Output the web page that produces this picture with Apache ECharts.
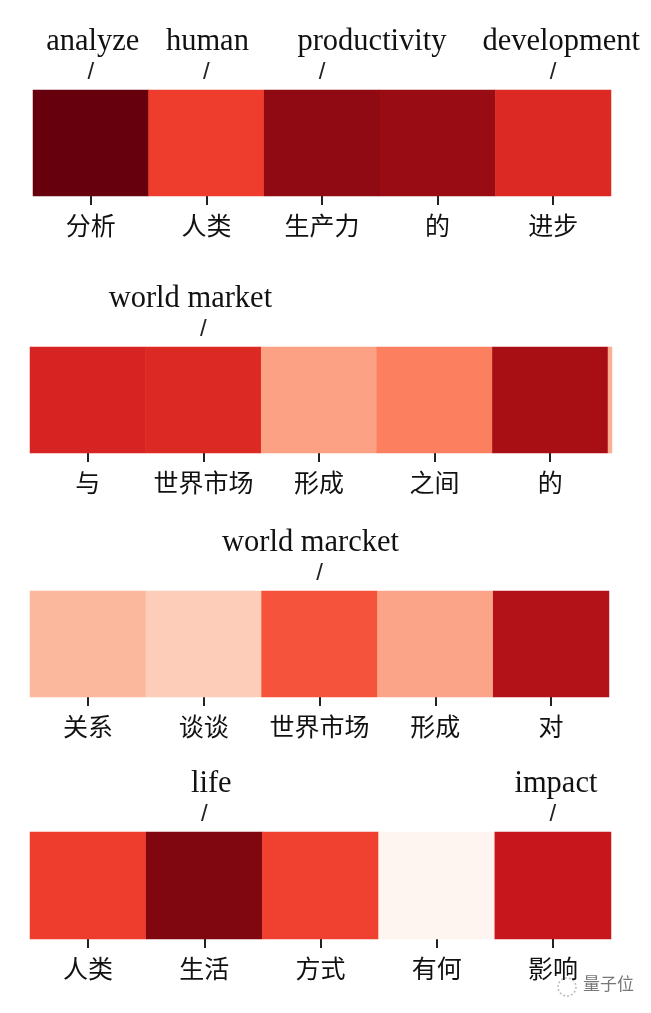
<!DOCTYPE html>
<html>
<head>
<meta charset="utf-8">
<script src="https://cdn.jsdelivr.net/npm/echarts@6/dist/echarts.min.js"></script>
<style>html,body{margin:0;padding:0;background:#fff}#c{width:651px;height:1013px}</style>
</head>
<body>
<div id="c"></div>
<script>
// Chinese tokens (bottom labels)
const zhRow1 = ['分析', '人类', '生产力', '的', '进步'];
const zhRow2 = ['与', '世界市场', '形成', '之间', '的'];
const zhRow3 = ['关系', '谈谈', '世界市场', '形成', '对'];
const zhRow4 = ['人类', '生活', '方式', '有何', '影响'];
// English glosses (top labels); '' = none
const enRow1 = ['analyze', 'human', 'productivity', '', 'development'];
const enRow2 = ['', 'world market', '', '', ''];
const enRow3 = ['', '', 'world marcket', '', ''];
const enRow4 = ['', 'life', '', '', 'impact'];
// attention weights (0..1, Reds colormap)
const valRow1 = [1.00, 0.62, 0.92, 0.90, 0.69];
const valRow2 = [0.71, 0.69, 0.33, 0.43, 0.87];
const valRow3 = [0.26, 0.19, 0.56, 0.32, 0.83];
const valRow4 = [0.62, 0.95, 0.61, 0.00, 0.76];
const valRow2Tail = [0.29];

const reds = ['#fff5f0','#fee0d2','#fcbba1','#fc9272','#fb6a4a','#ef3b2c','#cb181d','#a50f15','#67000d'];

// layout per row (horizontal nudges of the English words, px)
const rows = [
  {zh: zhRow1, en: enRow1, val: valRow1, left: 33, right: 40, top: 90, height: 106, nudge: [2, 1, 50, 0, 8]},
  {zh: zhRow2, en: enRow2, val: valRow2, left: 30, right: 43, top: 347, height: 106, nudge: [0, -13, 0, 0, 0]},
  {zh: zhRow3, en: enRow3, val: valRow3, left: 30, right: 42, top: 591, height: 106, nudge: [0, 0, -9, 0, 0]},
  {zh: zhRow4, en: enRow4, val: valRow4, left: 30, right: 40, top: 832, height: 107, nudge: [0, 7, 0, 0, 3]}
];

const wordStyle = {fontFamily: 'Liberation Serif', fontSize: 30.5, lineHeight: 26, color: '#111'};
const grid = [], xAxis = [], yAxis = [], series = [];
rows.forEach((r, i) => {
  grid.push({left: r.left, right: r.right, top: r.top, height: r.height});
  xAxis.push({
    type: 'category', gridIndex: i, data: r.zh, position: 'bottom',
    axisLine: {show: false},
    axisTick: {show: true, alignWithLabel: true, length: 9, lineStyle: {color: '#222', width: 2}},
    axisLabel: {interval: 0, margin: 17, color: '#111', fontSize: 25, fontFamily: 'Noto Sans CJK SC'},
    splitLine: {show: false}
  });
  const rich = {s: {fontFamily: 'Liberation Sans', fontSize: 24, lineHeight: 34, color: '#222'}};
  r.nudge.forEach((n, k) => {
    rich['w' + k] = Object.assign({}, wordStyle, {padding: n >= 0 ? [0, 0, 0, 2 * n] : [0, -2 * n, 0, 0]});
  });
  xAxis.push({
    type: 'category', gridIndex: i, data: r.en, position: 'top',
    axisLine: {show: false}, axisTick: {show: false},
    axisLabel: {
      interval: 0, margin: 1, color: '#111',
      formatter: (v, idx) => v ? '{w' + idx + '|' + v + '}\n{s|/}' : '',
      rich
    }
  });
  yAxis.push({type: 'category', gridIndex: i, data: ['a'], show: false});
  series.push({
    type: 'heatmap', xAxisIndex: i * 2, yAxisIndex: i,
    data: r.val.map((v, j) => [j, 0, v]),
    itemStyle: {borderWidth: 0},
    emphasis: {disabled: true}
  });
});
// thin trailing sliver at end of row 2
grid.push({left: 608, width: 4, top: 347, height: 106});
xAxis.push({type: 'category', gridIndex: 4, data: [''], show: false});
yAxis.push({type: 'category', gridIndex: 4, data: ['a'], show: false});
series.push({type: 'heatmap', xAxisIndex: 8, yAxisIndex: 4,
  data: valRow2Tail.map((v, j) => [j, 0, v]), emphasis: {disabled: true}});

const chart = echarts.init(document.getElementById('c'));
chart.setOption({
  backgroundColor: '#fff',
  animation: false,
  grid, xAxis, yAxis, series,
  visualMap: {show: false, min: 0, max: 1, seriesIndex: [0,1,2,3,4], inRange: {color: reds}},
  graphic: [
    {type: 'text', left: 583, top: 975, style: {text: '量子位', fontSize: 17, fill: '#777', fontFamily: 'Noto Sans CJK SC'}},
    {type: 'circle', shape: {cx: 567, cy: 987, r: 9}, style: {fill: 'none', stroke: '#bbb', lineWidth: 1.5, lineDash: [2, 2]}}
  ]
});
</script>
</body>
</html>
